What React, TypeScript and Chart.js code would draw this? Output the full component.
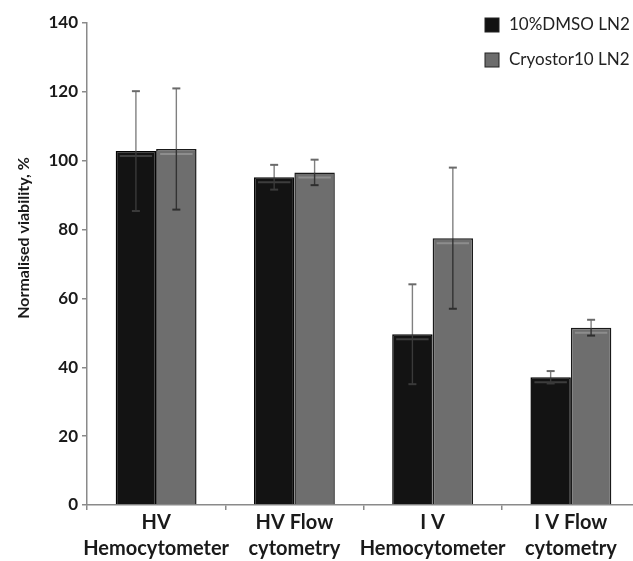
import React, { useEffect, useRef } from "react";
import { Chart, registerables } from "chart.js";

Chart.register(...registerables);

const categories: string[][] = [
  ["HV", "Hemocytometer"],
  ["HV Flow", "cytometry"],
  ["I V", "Hemocytometer"],
  ["I V Flow", "cytometry"],
];
const seriesNames = ["10%DMSO LN2", "Cryostor10 LN2"];
const dmsoValues = [102.8, 95.2, 49.6, 37.1];
const dmsoErrors = [17.4, 3.6, 14.5, 1.8];
const cryoValues = [103.4, 96.6, 77.5, 51.5];
const cryoErrors = [17.6, 3.7, 20.5, 2.3];
const yMin = 0;
const yMax = 140;
const yStep = 20;
const yTitle = "Normalised viability, %";

const FONT = "Lato, 'Liberation Sans', sans-serif";

const errorBarPlugin = {
  id: "errorBars",
  afterDatasetsDraw(chart: any) {
    const ctx = chart.ctx;
    const yScale = chart.scales.y;
    chart.data.datasets.forEach((ds: any, di: number) => {
      const meta = chart.getDatasetMeta(di);
      meta.data.forEach((el: any) => {
        const w = el.width;
        const left = el.x - w / 2;
        ctx.save();
        ctx.strokeStyle = di === 0 ? "rgba(255,255,255,0.18)" : "rgba(255,255,255,0.22)";
        ctx.lineWidth = 2;
        ctx.beginPath();
        ctx.moveTo(left + 4, el.y + 5);
        ctx.lineTo(left + w - 4, el.y + 5);
        ctx.stroke();
        ctx.restore();
      });
    });
    chart.data.datasets.forEach((ds: any, di: number) => {
      const meta = chart.getDatasetMeta(di);
      const errs: number[] = ds.errors || [];
      meta.data.forEach((el: any, i: number) => {
        const v = ds.data[i];
        const e = errs[i];
        if (e == null) return;
        const x = el.x;
        const yTop = yScale.getPixelForValue(v + e);
        const yBot = yScale.getPixelForValue(v - e);
        const yBar = yScale.getPixelForValue(v);
        const cap = 4;
        ctx.save();
        ctx.strokeStyle = "#808080";
        ctx.lineWidth = 1.4;
        ctx.beginPath();
        ctx.moveTo(x, yTop);
        ctx.lineTo(x, yBar);
        ctx.stroke();
        ctx.strokeStyle = di === 0 ? "#3a3a3a" : "#333333";
        ctx.beginPath();
        ctx.moveTo(x, yBar);
        ctx.lineTo(x, yBot);
        ctx.stroke();
        ctx.lineWidth = 2;
        ctx.strokeStyle = "#6a6a6a";
        ctx.beginPath();
        ctx.moveTo(x - cap, yTop);
        ctx.lineTo(x + cap, yTop);
        ctx.stroke();
        ctx.strokeStyle = di === 0 ? "#3a3a3a" : "#2e2e2e";
        ctx.beginPath();
        ctx.moveTo(x - cap, yBot);
        ctx.lineTo(x + cap, yBot);
        ctx.stroke();
        ctx.restore();
      });
    });
  },
};

const decorPlugin = {
  id: "decor",
  afterDraw(chart: any) {
    const ctx = chart.ctx;
    ctx.save();
    ctx.translate(24, 238);
    ctx.rotate(-Math.PI / 2);
    ctx.font = `bold 16px ${FONT}`;
    ctx.fillStyle = "#1a1a1a";
    ctx.textAlign = "center";
    ctx.textBaseline = "middle";
    ctx.fillText(yTitle, 0, 0);
    ctx.restore();

    ctx.save();
    const colors = ["#121212", "#6c6c6c"];
    chart.data.datasets.forEach((ds: any, i: number) => {
      const yc = 25 + i * 35;
      ctx.fillStyle = colors[i];
      ctx.strokeStyle = "#222";
      ctx.lineWidth = 1;
      ctx.fillRect(485, yc - 7, 14, 14);
      ctx.strokeRect(485, yc - 7, 14, 14);
      ctx.fillStyle = "#222";
      ctx.font = `17px ${FONT}`;
      ctx.textAlign = "left";
      ctx.textBaseline = "middle";
      ctx.fillText(ds.label, 509, yc);
    });
    ctx.restore();
  },
};

export default function App() {
  const ref = useRef<HTMLCanvasElement>(null);

  useEffect(() => {
    if (!ref.current) return;
    const chart = new Chart(ref.current, {
      type: "bar",
      data: {
        labels: categories,
        datasets: [
          {
            label: seriesNames[0],
            data: dmsoValues,
            errors: dmsoErrors,
            backgroundColor: "#131313",
            borderColor: "#050505",
            borderWidth: 1.5,
            categoryPercentage: 0.585,
            barPercentage: 1.0,
          } as any,
          {
            label: seriesNames[1],
            data: cryoValues,
            errors: cryoErrors,
            backgroundColor: "#6e6e6e",
            borderColor: "#1a1a1a",
            borderWidth: 1.5,
            categoryPercentage: 0.585,
            barPercentage: 1.0,
          } as any,
        ],
      },
      options: {
        responsive: false,
        devicePixelRatio: 1,
        animation: false,
        layout: { padding: { left: 0, right: 20, top: 23, bottom: 0 } },
        plugins: {
          legend: { display: false },
          tooltip: { enabled: false },
        },
        scales: {
          x: {
            grid: {
              display: true,
              drawOnChartArea: false,
              drawTicks: true,
              tickLength: 5,
              color: "#8a8a8a",
              lineWidth: 1.5,
              offset: true,
            },
            border: { color: "#8a8a8a", width: 1.5 },
            ticks: {
              font: { family: FONT, size: 20, weight: "bold", lineHeight: 1.32 },
              color: "#1a1a1a",
              padding: -1,
              maxRotation: 0,
              autoSkip: false,
            },
            afterFit: (s: any) => {
              s.height = 56;
            },
          },
          y: {
            min: yMin,
            max: yMax,
            ticks: {
              stepSize: yStep,
              font: { family: FONT, size: 17, weight: "bold" },
              color: "#1a1a1a",
              padding: 4,
            },
            grid: {
              display: true,
              drawOnChartArea: false,
              drawTicks: true,
              tickLength: 5,
              color: "#8a8a8a",
              lineWidth: 1.5,
            },
            border: { color: "#8a8a8a", width: 1.5 },
            afterFit: (s: any) => {
              s.width = 87;
            },
          },
        },
      } as any,
      plugins: [errorBarPlugin, decorPlugin],
    });
    return () => chart.destroy();
  }, []);

  return (
    <div
      style={{
        position: "fixed",
        left: 0,
        top: 0,
        width: 633,
        height: 561,
        overflow: "hidden",
        background: "#fff",
      }}
    >
      <canvas
        ref={ref}
        width={660}
        height={561}
        style={{ display: "block", width: 660, height: 561 }}
      />
    </div>
  );
}
